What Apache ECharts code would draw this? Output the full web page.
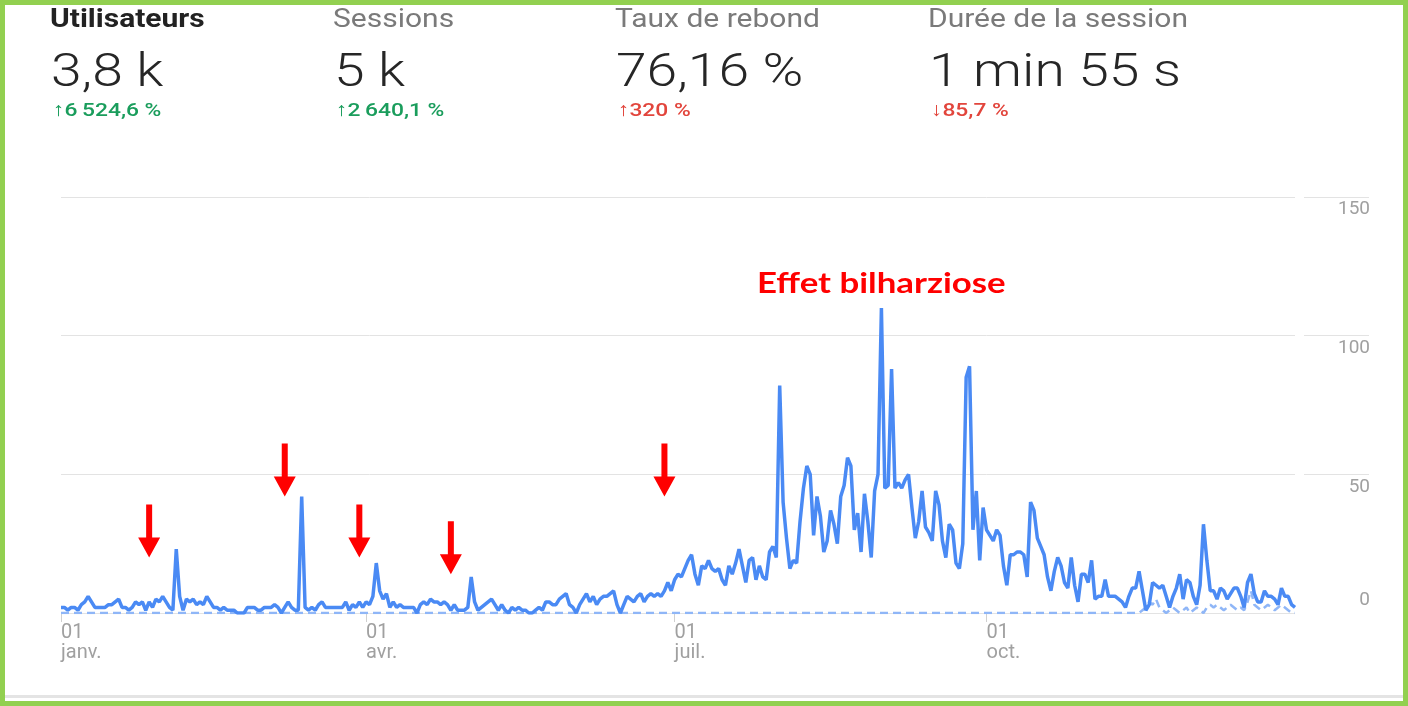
<!DOCTYPE html>
<html><head><meta charset="utf-8">
<script src="https://cdn.jsdelivr.net/npm/echarts@6/dist/echarts.min.js"></script>
<style>html,body{margin:0;padding:0;background:#fff;}#c{width:1408px;height:706px;}</style>
</head><body><div id="c"></div>
<script>
// ---- Daily users (current year), one array per month ----
const usersJan = [2,2,1,2,2,1,3,4,6,4,2,2,2,2,3,3,4,5,2,2,1,2,4,3,4,1,4,2,5,4,6];
const usersFeb = [4,2,1,23,6,1,5,4,5,3,4,3,6,4,2,2,1,2,1,1,1,0,0,0,2,2,2,1];
const usersMar = [1,2,2,2,3,2,0,2,4,2,1,1,42,2,1,2,1,3,4,2,2,2,2,2,2,4,1,3,2,4,2];
const usersApr = [4,3,6,18,8,5,7,2,4,2,3,2,2,2,2,0,3,4,3,5,4,4,3,4,3,1,3,1,1,1];
const usersMay = [2,13,4,1,2,3,4,5,3,1,3,1,0,2,1,2,1,1,0,0,1,2,1,4,4,3,3,5,6,7,3];
const usersJun = [2,0,3,5,7,4,6,3,5,6,6,7,8,3,0,3,6,5,4,6,7,4,6,7,6,7,6,8,11,8];
const usersJul = [12,14,13,16,19,21,14,10,17,16,19,16,15,16,12,10,17,14,18,23,17,11,19,20,12,17,13,12,22,24,20];
const usersAug = [82,40,27,16,19,18,33,45,53,50,28,42,35,22,26,37,32,25,42,46,56,53,30,36,22,43,33,20,44,50,110];
const usersSep = [45,46,88,45,47,45,48,50,38,27,33,44,31,29,26,44,39,26,20,32,30,18,16,25,85,89,30,44,19,38];
const usersOct = [30,28,26,30,28,17,10,21,21,22,22,21,13,40,37,27,24,21,13,8,15,20,17,11,9,20,10,4,14,14,11];
const usersNov = [19,5,6,6,12,6,6,6,5,4,2,6,9,9,15,8,1,3,11,10,9,10,6,2,6,9,14,5,12,11];
const usersDec = [6,3,10,32,19,8,8,5,9,8,5,7,9,9,6,2,11,14,7,4,4,8,6,6,5,3,9,6,6,3,2];

// ---- Comparison period (dashed), one array per month ----
const prevJan = [0,0,0,0,0,0,0,0,0,0,0,0,0,0,0,0,0,0,0,0,0,0,0,0,0,0,0,0,0,0,0];
const prevFeb = [0,0,0,0,0,0,0,0,0,0,0,0,0,0,0,0,0,0,0,0,0,0,0,0,0,0,0,0];
const prevMar = [0,0,0,0,0,0,0,0,0,0,0,0,0,0,0,0,0,0,0,0,0,0,0,0,0,0,0,0,0,0,0];
const prevApr = [0,0,0,0,0,0,0,0,0,0,0,0,0,0,0,0,0,0,0,0,0,0,0,0,0,0,0,0,0,0];
const prevMay = [0,0,0,0,0,0,0,0,0,0,0,0,0,0,0,0,0,0,0,0,0,0,0,0,0,0,0,0,0,0,0];
const prevJun = [0,0,0,0,0,0,0,0,0,0,0,0,0,0,0,0,0,0,0,0,0,0,0,0,0,0,0,0,0,0];
const prevJul = [0,0,0,0,0,0,0,0,0,0,0,0,0,0,0,0,0,0,0,0,0,0,0,0,0,0,0,0,0,0,0];
const prevAug = [0,0,0,0,0,0,0,0,0,0,0,0,0,0,0,0,0,0,0,0,0,0,0,0,0,0,0,0,0,0,0];
const prevSep = [0,0,0,0,0,0,0,0,0,0,0,0,0,0,0,0,0,0,0,0,0,0,0,0,0,0,0,0,0,0];
const prevOct = [0,0,0,0,0,0,0,0,0,0,0,0,0,0,0,0,0,0,0,0,0,0,0,0,0,0,0,0,0,0,0];
const prevNov = [0,0,0,0,0,0,0,0,0,0,0,0,0,0,0,1,2,4,3,5,2,1,0,1,2,1,0,1,2,0];
const prevDec = [1,2,1,0,2,3,2,3,2,1,2,3,2,1,2,1,4,8,3,2,1,2,3,2,1,2,3,2,1,0,0];

// ---- Axis / categories ----
const monthLengths = [31,28,31,30,31,30,31,31,30,31,30,31];
const tickMonths = [0,3,6,9];
const tickMonthNames = ['janv.','avr.','juil.','oct.'];
const yTicks = [0,50,100,150];

// ---- Header metrics ----
const metricTitles = ['Utilisateurs','Sessions','Taux de rebond','Durée de la session'];
const metricValues = ['3,8 k','5 k','76,16 %','1 min 55 s'];
const metricChanges = ['6\u2009524,6 %','2\u2009640,1 %','320 %','85,7 %'];
const metricArrows = ['\u2191','\u2191','\u2191','\u2193'];
const metricGood = [true,true,false,false];

// ---- Annotations ----
const arrowDays = [26,66,88,115,178];
const arrowValues = [20,42,20,14,42];
const annotationText = 'Effet bilharziose';

// build categories
const categories = [];
const catMonth = [];
const catDay = [];
monthLengths.forEach((len, m) => {
  for (let d = 1; d <= len; d++) {
    categories.push(String(m + 1).padStart(2, '0') + '-' + String(d).padStart(2, '0'));
    catMonth.push(m); catDay.push(d);
  }
});
const users = [].concat(usersJan,usersFeb,usersMar,usersApr,usersMay,usersJun,usersJul,usersAug,usersSep,usersOct,usersNov,usersDec);
const prev = [].concat(prevJan,prevFeb,prevMar,prevApr,prevMay,prevJun,prevJul,prevAug,prevSep,prevOct,prevNov,prevDec);

const isTick = (i) => catDay[i] === 1 && tickMonths.indexOf(catMonth[i]) >= 0;

const chart = echarts.init(document.getElementById('c'), null, {renderer: 'canvas'});

const SX = 1.2;
const colX = [50, 333, 615, 928];
const graphics = [];
metricTitles.forEach((t, i) => {
  graphics.push({type:'text', x: colX[i], y: 21, scaleX: SX, z: 10,
    style:{text: t, fontFamily:'Roboto', fontSize: 25, fontWeight: i === 0 ? 'bold' : 'normal',
      fill: i === 0 ? '#222222' : '#7a7a7a', verticalAlign:'middle', align:'left'}});
  graphics.push({type:'text', x: colX[i] + 1, y: 74, scaleX: SX, z: 10,
    style:{text: metricValues[i], fontFamily:'Roboto', fontSize: 46, fontWeight: 300,
      fill:'#262626', verticalAlign:'middle', align:'left'}});
  graphics.push({type:'text', x: colX[i] + 3, y: 111, scaleX: SX, z: 10,
    style:{text: metricArrows[i] + metricChanges[i], fontFamily:'Roboto', fontSize: 19, fontWeight: 500,
      fill: metricGood[i] ? '#1a9d5c' : '#e2453c', verticalAlign:'middle', align:'left'}});
});
graphics.push({type:'text', x: 757, y: 284, scaleX: SX, z: 10,
  style:{text: annotationText, fontFamily:'Lato', fontSize: 29, fontWeight:'bold', fill:'#ff0000',
    verticalAlign:'middle', align:'left'}});
graphics.push({type:'rect', shape:{x:5, y:695, width:1398, height:3}, style:{fill:'#e4e4e4'}, z: 1});
graphics.push({type:'rect', shape:{x:2.5, y:2.5, width:1403, height:701}, style:{fill:'none', stroke:'#92d050', lineWidth:5}, z: 20});

const arrowPath = 'path://M8,0 L14,0 L14,33 L22,33 L11,53 L0,33 L8,33 Z';

const option = {
  animation: false,
  backgroundColor: '#ffffff',
  graphic: graphics,
  grid: {left: 61, right: 113, top: 197, bottom: 93, containLabel: false, outerBoundsMode: 'none'},
  xAxis: {
    type: 'category', data: categories, boundaryGap: false,
    axisLine: {show: false},
    axisTick: {show: true, interval: (i) => isTick(i), length: 9, lineStyle: {color: '#d0d0d0', width: 1}},
    axisLabel: {interval: (i) => isTick(i), formatter: (v, i) => {
        const k = tickMonths.indexOf(catMonth[i]);
        return '01\n' + tickMonthNames[k];
      }, align: 'left', color: '#a0a0a0', fontFamily: 'Roboto', fontSize: 20, lineHeight: 20, margin: 10},
    splitLine: {show: false}
  },
  yAxis: [{
    type: 'value', position: 'right', min: yTicks[0], max: yTicks[yTicks.length - 1], interval: 50, offset: 9,
    axisLine: {show: false},
    axisTick: {show: true, length: 65, lineStyle: {color: '#e3e3e3', width: 1}},
    axisLabel: {showMinLabel: false, align: 'right', margin: 66, verticalAlign: 'top', padding: [3,0,0,0],
      color: '#a0a0a0', fontFamily: 'Roboto', fontSize: 19},
    splitLine: {show: true, lineStyle: {color: '#e3e3e3', width: 1}}
  }, {
    type: 'value', position: 'right', min: yTicks[0], max: yTicks[yTicks.length - 1], interval: 50, offset: 9,
    axisLine: {show: false}, axisTick: {show: false}, splitLine: {show: false},
    axisLabel: {formatter: (v) => v === 0 ? '0' : '', align: 'right', margin: 66, verticalAlign: 'bottom', padding: [0,0,3,0],
      color: '#a0a0a0', fontFamily: 'Roboto', fontSize: 19}
  }],
  series: [{
    name: 'prev', type: 'line', data: prev, yAxisIndex: 0, symbol: 'none', silent: true,
    lineStyle: {color: '#8fb6f7', width: 2.5, type: [8, 5]}, z: 2
  }, {
    name: 'Utilisateurs', type: 'line', data: users, yAxisIndex: 0, symbol: 'none', silent: true,
    lineStyle: {color: '#4a8af4', width: 3.5}, z: 3,
    markPoint: {
      silent: true,
      symbol: arrowPath, symbolSize: [22, 53], symbolOffset: [0, '-50%'],
      itemStyle: {color: '#ff0000'}, label: {show: false},
      data: arrowDays.map((d, i) => ({coord: [categories[d], arrowValues[i]]}))
    }
  }]
};
chart.setOption(option);
</script>
</body></html>
